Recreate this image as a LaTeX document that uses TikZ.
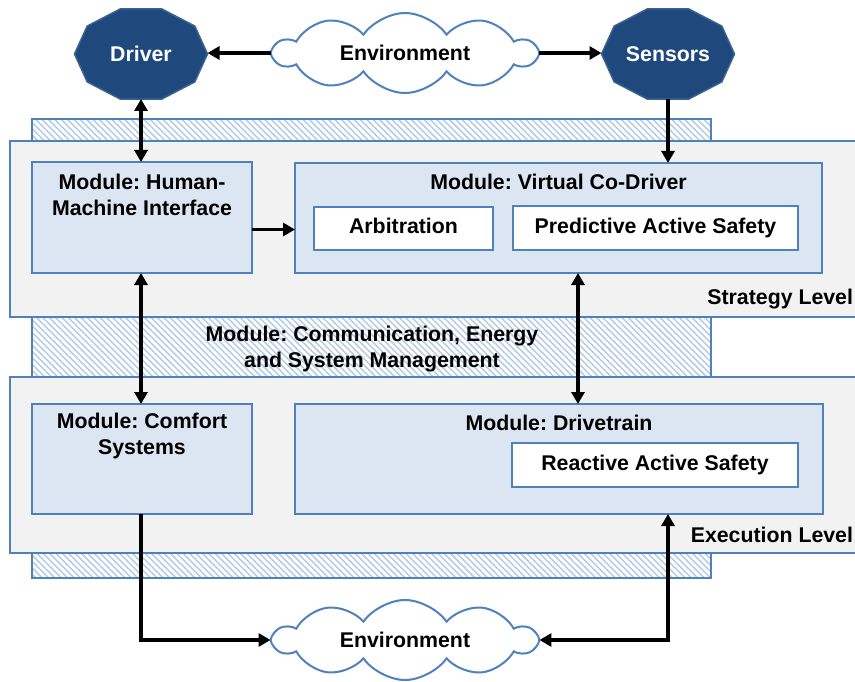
\documentclass[tikz,border=0pt]{standalone}
\usepackage{fontspec}
\setmainfont{Liberation Sans}
\usetikzlibrary{arrows.meta,shapes.symbols,patterns.meta,calc}
\definecolor{bluebd}{RGB}{79,129,189}
\definecolor{modfill}{RGB}{220,230,242}
\definecolor{levfill}{RGB}{242,242,242}
\definecolor{hatchcol}{RGB}{185,205,229}
\definecolor{octfill}{RGB}{31,73,125}
\definecolor{octdraw}{RGB}{60,98,145}
\newcommand\lblfont{\fontsize{21.3}{25.5}\selectfont\bfseries\frenchspacing}
\begin{document}
\begin{tikzpicture}[x=1pt,y=-1pt,
  every node/.style={font=\lblfont, inner sep=0pt, outer sep=0pt},
  hatchbox/.style={draw=bluebd, line width=2.5pt, preaction={fill=white},
    pattern={Lines[angle=-45,distance=4.5pt,line width=1.6pt]}, pattern color=hatchcol,
    rectangle, anchor=north west},
  levelbox/.style={draw=bluebd, line width=2.5pt, fill=levfill, rectangle, anchor=north west},
  modbox/.style={draw=bluebd, line width=2.5pt, fill=modfill, rectangle, anchor=north west},
  subbox/.style={draw=bluebd, line width=2pt, fill=white, rectangle, text height=15pt, text depth=4.5pt},
  octo/.style={fill=octfill, draw=octdraw, line width=1.5pt},
  octlbl/.style={text=white, minimum width=133pt, minimum height=90pt},
  envcloud/.style={cloud, cloud puffs=10, cloud puff arc=110, cloud ignores aspect, draw=bluebd, fill=white,
    line width=2pt, minimum width=262pt, minimum height=80pt},
  conn/.style={line width=3.5pt, draw=black},
  tip/.tip={Triangle[length=12pt,width=13pt]},
]
\useasboundingbox (0,0) rectangle (855,682);

% background hatched module
\node[hatchbox, minimum width=679pt, minimum height=459pt] (hatch) at (32,119) {};

% levels
\node[levelbox, minimum width=850pt, minimum height=176pt] (strat) at (10,141) {};
\node[levelbox, minimum width=850pt, minimum height=176pt] (exec) at (10,377) {};
\node[anchor=east] (stratlbl) at (853,299) {Strategy Level};
\node[anchor=east] (execlbl) at (853,535) {Execution Level};

\node[align=center] (comm) at (372,349) {Module: Communication, Energy\\and System Management};

% modules
\node[modbox, minimum width=220pt, minimum height=111pt] (hmi) at (32,162) {};
\node[align=center] (hmitxt) at (142,195) {Module: Human-\\Machine Interface};
\node[modbox, minimum width=527pt, minimum height=110pt] (vcd) at (295,163) {};
\node (vcdtxt) at (558.5,182) {Module: Virtual Co-Driver};
\node[subbox, minimum width=179pt, minimum height=43pt] (arb) at (403.5,228.5) {Arbitration};
\node[subbox, minimum width=285pt, minimum height=44pt] (pas) at (655.5,228.5) {Predictive Active Safety};

\node[modbox, minimum width=220pt, minimum height=110pt] (cmf) at (32,404) {};
\node[align=center] (cmftxt) at (142,436) {Module: Comfort\\Systems};
\node[modbox, minimum width=528pt, minimum height=110pt] (drt) at (295,404) {};
\node (drttxt) at (559,423) {Module: Drivetrain};
\node[subbox, minimum width=286pt, minimum height=44pt] (ras) at (655,465) {Reactive Active Safety};

% driver / sensors decagons
\coordinate (drvc) at (141,54);
\coordinate (senc) at (668,54);
\draw[octo, shift={(drvc)}] plot[samples at={0,36,...,324}, variable=\t] ({66.5*cos(\t)},{47.5*sin(\t)}) -- cycle;
\draw[octo, shift={(senc)}] plot[samples at={0,36,...,324}, variable=\t] ({66.5*cos(\t)},{47.5*sin(\t)}) -- cycle;
\node[octlbl] (drv) at (drvc) {Driver};
\node[octlbl] (sen) at (senc) {Sensors};

% clouds
\node[envcloud] (env1) at (405,53) {Environment};
\node[envcloud] (env2) at (405,640) {Environment};

% connectors
\draw[conn, -tip] (env1.west) -- (env1.west -| drv.east);
\draw[conn, -tip] (env1.east) -- (env1.east -| sen.west);
\draw[conn, tip-tip] (drv.south) -- (drv.south |- hmi.north);
\draw[conn, -tip] (sen.south) -- (sen.south |- vcd.north);
\draw[conn, -tip] ([yshift=-12pt]hmi.east) -- ([yshift=-12pt]hmi.east -| vcd.west);
\draw[conn, tip-tip] (drv.south |- hmi.south) -- (drv.south |- cmf.north);
\draw[conn, tip-tip] ([xshift=19.5pt]vcd.south) -- ([xshift=19.5pt]vcd.south |- drt.north);
\draw[conn, -tip] (drv.south |- cmf.south) |- (env2.west);
\draw[conn, tip-tip] (env2.east) -| (sen.south |- drt.south);
\end{tikzpicture}
\end{document}
